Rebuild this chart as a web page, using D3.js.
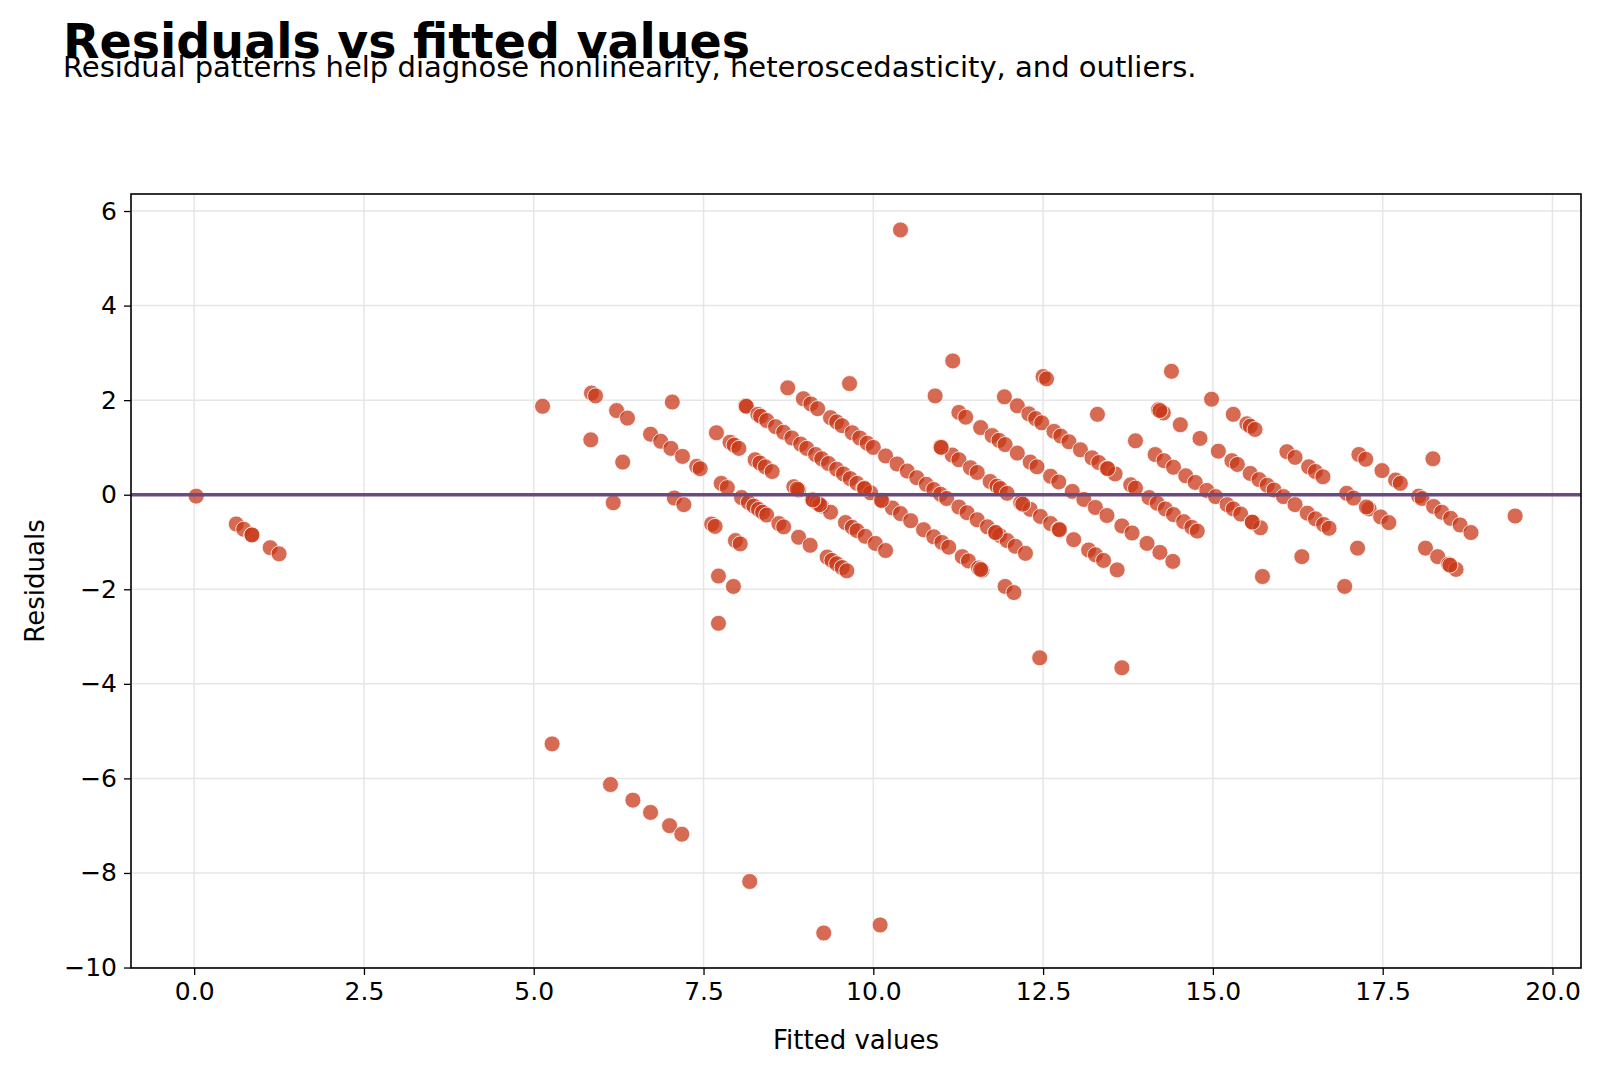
<!DOCTYPE html>
<html>
<head>
<meta charset="utf-8">
<script src="https://cdn.jsdelivr.net/npm/d3@7"></script>
<style>
  body { margin: 0; background: #fff; }
  svg text { font-family: "DejaVu Sans", sans-serif; }
</style>
</head>
<body>
<div id="chart"></div>
<script>
// fitted values and residuals (grouped by diagonal band)
const fitted = [
  // band 0
  0.03, 0.62, 0.73, 0.85, 0.85, 1.12, 1.25, 5.27, 6.13, 6.46, 6.72, 7.00, 7.18, 8.18, 9.27,
  // band 1, 5, 6
  10.10, 7.72, 6.17, 7.72, 7.94,
  // band 7
  5.13, 5.84, 6.31, 7.07, 7.21, 7.62, 7.67, 7.97, 8.04,
  // band 8
  5.85, 5.91, 6.22, 6.38, 6.72, 6.87, 7.02, 7.19, 7.40, 7.45, 7.76, 7.85, 8.06, 8.16, 8.24, 8.31,
  8.37, 8.43, 8.61, 8.68, 8.90, 9.07, 9.32, 9.39, 9.46, 9.54, 9.61,
  // band 9
  7.04, 7.69, 7.89, 7.95, 8.02, 8.26, 8.33, 8.41, 8.51, 8.83, 8.90, 9.10, 9.12, 9.17, 9.24, 9.37,
  9.59, 9.69, 9.76, 9.88, 10.03, 10.18, 12.45,
  // band 10
  8.12, 8.13, 8.30, 8.34, 8.43, 8.56, 8.68, 8.80, 8.93, 9.02, 9.15, 9.24, 9.34, 9.46, 9.56, 9.66,
  9.76, 9.86, 9.96, 10.13, 10.28, 10.40, 10.55, 10.74, 10.89, 11.01, 11.11, 11.31, 11.40, 11.55,
  11.60, 11.94, 12.07, 13.66,
  // band 11
  8.74, 8.97, 9.08, 9.18, 9.37, 9.46, 9.54, 9.69, 9.80, 9.91, 10.00, 10.18, 10.35, 10.50, 10.64,
  10.78, 10.89, 10.99, 11.08, 11.26, 11.38, 11.53, 11.68, 11.80, 11.86, 11.97, 12.09, 12.24,
  // band 12
  9.65, 10.99, 11.16, 11.26, 11.43, 11.53, 11.72, 11.82, 11.87, 11.97, 12.17, 12.31, 12.46, 12.61,
  12.73, 12.95, 13.17, 13.27, 13.39, 13.59,
  // band 13
  10.91, 11.26, 11.36, 11.58, 11.75, 11.85, 11.94, 12.12, 12.31, 12.41, 12.61, 12.73, 12.93, 13.10,
  13.27, 13.44, 13.66, 13.81, 14.03, 14.22, 14.41,
  // band 14
  11.17, 11.93, 12.12, 12.29, 12.39, 12.48, 12.66, 12.76, 12.88, 13.05, 13.22, 13.32, 13.44, 13.56,
  13.79, 13.86, 14.06, 14.18, 14.30, 14.42, 14.57, 14.69, 14.77, 15.73,
  // band 15
  12.50, 12.55, 13.30, 13.86, 14.15, 14.28, 14.42, 14.60, 14.74, 14.91, 15.04, 15.21, 15.30, 15.41,
  15.58, 15.70, 16.31, 16.94,
  // band 16
  10.40, 14.20, 14.27, 14.52, 14.81, 15.08, 15.28, 15.36, 15.55, 15.68, 15.80, 15.90, 16.04, 16.21,
  16.39, 16.51, 16.63, 16.71, 17.13,
  // band 17
  14.39, 14.98, 15.30, 15.50, 15.55, 15.62, 16.09, 16.21, 16.41, 16.51, 16.62, 16.97, 17.07, 17.30,
  17.47, 17.59, 18.13, 18.31, 18.47, 18.58,
  // band 18, 19
  17.15, 17.25, 17.49, 17.69, 17.76, 18.03, 18.08, 18.25, 18.37, 18.50, 18.64, 18.80,
  18.24, 19.45,
  // overlapping repeats (darker spots)
  15.58, 14.22, 18.49, 17.26, 12.74, 11.58, 9.87, 8.88, 9.21, 9.11, 10.12, 11.00, 12.20, 11.80, 13.45
];

const residuals = [
  -0.03, -0.62, -0.73, -0.85, -0.85, -1.12, -1.25, -5.27, -6.13, -6.46, -6.72, -7.00, -7.18, -8.18, -9.27,
  -9.10, -2.72, -0.17, -1.72, -1.94,
  1.87, 1.16, 0.69, -0.07, -0.21, -0.62, -0.67, -0.97, -1.04,
  2.15, 2.09, 1.78, 1.62, 1.28, 1.13, 0.98, 0.81, 0.60, 0.55, 0.24, 0.15, -0.06, -0.16, -0.24, -0.31,
  -0.37, -0.43, -0.61, -0.68, -0.90, -1.07, -1.32, -1.39, -1.46, -1.54, -1.61,
  1.96, 1.31, 1.11, 1.05, 0.98, 0.74, 0.67, 0.59, 0.49, 0.17, 0.10, -0.10, -0.12, -0.17, -0.24, -0.37,
  -0.59, -0.69, -0.76, -0.88, -1.03, -1.18, -3.45,
  1.88, 1.87, 1.70, 1.66, 1.57, 1.44, 1.32, 1.20, 1.07, 0.98, 0.85, 0.76, 0.66, 0.54, 0.44, 0.34,
  0.24, 0.14, 0.04, -0.13, -0.28, -0.40, -0.55, -0.74, -0.89, -1.01, -1.11, -1.31, -1.40, -1.55,
  -1.60, -1.94, -2.07, -3.66,
  2.26, 2.03, 1.92, 1.82, 1.63, 1.54, 1.46, 1.31, 1.20, 1.09, 1.00, 0.82, 0.65, 0.50, 0.36,
  0.22, 0.11, 0.01, -0.08, -0.26, -0.38, -0.53, -0.68, -0.80, -0.86, -0.97, -1.09, -1.24,
  2.35, 1.01, 0.84, 0.74, 0.57, 0.47, 0.28, 0.18, 0.13, 0.03, -0.17, -0.31, -0.46, -0.61,
  -0.73, -0.95, -1.17, -1.27, -1.39, -1.59,
  2.09, 1.74, 1.64, 1.42, 1.25, 1.15, 1.06, 0.88, 0.69, 0.59, 0.39, 0.27, 0.07, -0.10,
  -0.27, -0.44, -0.66, -0.81, -1.03, -1.22, -1.41,
  2.83, 2.07, 1.88, 1.71, 1.61, 1.52, 1.34, 1.24, 1.12, 0.95, 0.78, 0.68, 0.56, 0.44,
  0.21, 0.14, -0.06, -0.18, -0.30, -0.42, -0.57, -0.69, -0.77, -1.73,
  2.50, 2.45, 1.70, 1.14, 0.85, 0.72, 0.58, 0.40, 0.26, 0.09, -0.04, -0.21, -0.30, -0.41,
  -0.58, -0.70, -1.31, -1.94,
  5.60, 1.80, 1.73, 1.48, 1.19, 0.92, 0.72, 0.64, 0.45, 0.32, 0.20, 0.10, -0.04, -0.21,
  -0.39, -0.51, -0.63, -0.71, -1.13,
  2.61, 2.02, 1.70, 1.50, 1.45, 1.38, 0.91, 0.79, 0.59, 0.49, 0.38, 0.03, -0.07, -0.30,
  -0.47, -0.59, -1.13, -1.31, -1.47, -1.58,
  0.85, 0.75, 0.51, 0.31, 0.24, -0.03, -0.08, -0.25, -0.37, -0.50, -0.64, -0.80,
  0.76, -0.45,
  -0.58, 1.78, -1.49, -0.26, -0.74, -1.58, 0.13, 0.12, -0.21, -0.11, -0.12, 1.00, -0.20, -0.80, 0.55
];

const xTicks = [0, 2.5, 5, 7.5, 10, 12.5, 15, 17.5, 20];
const yTicks = [-10, -8, -6, -4, -2, 0, 2, 4, 6];

const data = fitted.map((f, i) => ({ f: f, r: residuals[i] }));

const W = 1600, H = 1070;
const margin = { top: 194, right: 19, bottom: 102, left: 131 };

const svg = d3.select("#chart")
  .append("svg")
  .attr("width", W)
  .attr("height", H);

// Scales
const x = d3.scaleLinear()
  .domain([-0.93, 20.42])
  .range([margin.left, W - margin.right]);

const y = d3.scaleLinear()
  .domain([-10.01, 6.36])
  .range([H - margin.bottom, margin.top]);

// Grid
svg.append("g")
  .selectAll("line")
  .data(xTicks)
  .enter()
  .append("line")
  .attr("x1", d => x(d)).attr("x2", d => x(d))
  .attr("y1", margin.top).attr("y2", H - margin.bottom)
  .attr("stroke", "#e6e6e6")
  .attr("stroke-width", 1.5);

svg.append("g")
  .selectAll("line")
  .data(yTicks)
  .enter()
  .append("line")
  .attr("x1", margin.left).attr("x2", W - margin.right)
  .attr("y1", d => y(d)).attr("y2", d => y(d))
  .attr("stroke", "#e6e6e6")
  .attr("stroke-width", 1.5);

// Points
svg.append("g")
  .selectAll("circle")
  .data(data)
  .enter()
  .append("circle")
  .attr("cx", d => x(d.f))
  .attr("cy", d => y(d.r))
  .attr("r", 8)
  .attr("fill", "rgb(200,56,24)")
  .attr("fill-opacity", 0.75)
  .attr("stroke", "#fff")
  .attr("stroke-opacity", 0.8)
  .attr("stroke-width", 1);

// Zero line
svg.append("line")
  .attr("x1", margin.left).attr("x2", W - margin.right)
  .attr("y1", y(0)).attr("y2", y(0))
  .attr("stroke", "#6a4a80")
  .attr("stroke-width", 3.5);

// Axes
const xAxis = svg.append("g")
  .attr("transform", `translate(0,${H - margin.bottom})`)
  .call(d3.axisBottom(x).tickValues(xTicks).tickFormat(d3.format(".1f")).tickSize(7).tickPadding(7));

const yAxis = svg.append("g")
  .attr("transform", `translate(${margin.left},0)`)
  .call(d3.axisLeft(y).tickValues(yTicks).tickFormat(d => d < 0 ? "\u2212" + Math.abs(d) : d).tickSize(7).tickPadding(7));

[xAxis, yAxis].forEach(g => {
  g.select(".domain").remove();
  g.selectAll(".tick line").attr("stroke", "#000").attr("stroke-width", 1.3);
  g.selectAll(".tick text")
    .attr("fill", "#000")
    .style("font-size", "25px")
    .style("font-family", "DejaVu Sans");
});

// Frame
svg.append("rect")
  .attr("x", margin.left).attr("y", margin.top)
  .attr("width", W - margin.right - margin.left)
  .attr("height", H - margin.bottom - margin.top)
  .attr("fill", "none")
  .attr("stroke", "#000")
  .attr("stroke-width", 1.6);

// Axis labels
svg.append("text")
  .attr("x", (margin.left + W - margin.right) / 2)
  .attr("y", 1049)
  .attr("text-anchor", "middle")
  .style("font-size", "26px")
  .text("Fitted values");

svg.append("text")
  .attr("transform", `translate(44,${(margin.top + H - margin.bottom) / 2}) rotate(-90)`)
  .attr("text-anchor", "middle")
  .style("font-size", "26px")
  .text("Residuals");

// Title and subtitle
svg.append("text")
  .attr("x", 63)
  .attr("y", 57.5)
  .style("font-size", "47.5px")
  .style("font-weight", "bold")
  .text("Residuals vs fitted values");

svg.append("text")
  .attr("x", 63)
  .attr("y", 77)
  .style("font-size", "29px")
  .text("Residual patterns help diagnose nonlinearity, heteroscedasticity, and outliers.");
</script>
</body>
</html>
